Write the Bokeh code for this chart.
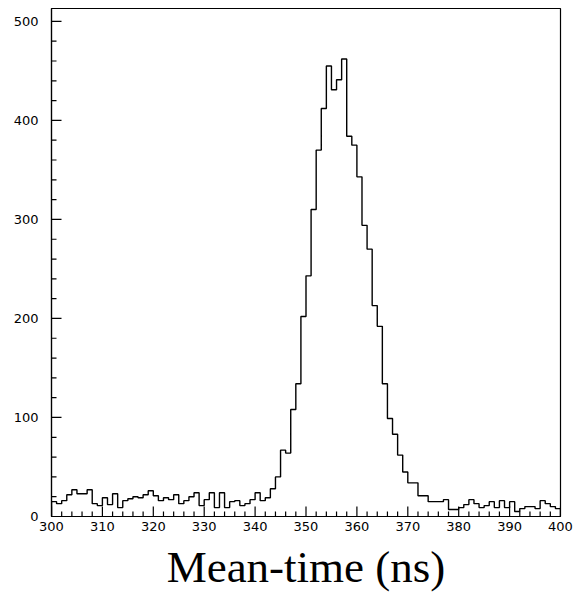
import math
from bokeh.plotting import figure
from bokeh.models import SingleIntervalTicker, Range1d
from bokeh.embed import file_html
from bokeh.resources import INLINE

# Histogram: 1 ns bins from 300 to 400 ns
bin_start = 300
bin_width = 1
counts = [
    15, 13, 16, 22, 27, 23, 23, 27, 13, 11,   # 300-309
    19, 12, 23, 9, 16, 18, 20, 19, 22, 26,    # 310-319
    21, 16, 19, 17, 22, 13, 16, 20, 24, 11,   # 320-329
    17, 24, 9, 24, 9, 15, 16, 11, 13, 17,     # 330-339
    24, 16, 19, 28, 40, 67, 64, 108, 134, 202,  # 340-349
    243, 310, 370, 412, 455, 431, 441, 462, 384, 375,  # 350-359
    343, 294, 270, 213, 192, 134, 99, 83, 62, 45,  # 360-369
    34, 34, 21, 21, 15, 15, 15, 17, 7, 7,     # 370-379
    9, 12, 17, 13, 9, 11, 15, 9, 16, 9,       # 380-389
    15, 5, 8, 10, 10, 8, 16, 13, 10, 8,       # 390-399
]
x_label = "Mean-time (ns)"
x_major_ticks = [300, 310, 320, 330, 340, 350, 360, 370, 380, 390, 400]
y_major_ticks = [0, 100, 200, 300, 400, 500]

X_MIN, X_MAX = 300, 400
Y_MIN, Y_MAX = 0, 513

edges = [bin_start + i * bin_width for i in range(len(counts) + 1)]
step_y = counts + [counts[-1]]

x_minor_ticks = [t for t in range(X_MIN, X_MAX + 1, 2) if t not in x_major_ticks]
y_minor_ticks = [t for t in range(Y_MIN, 501, 20) if t not in y_major_ticks]

p = figure(width=575, height=597, output_backend="svg", toolbar_location=None,
           x_range=Range1d(X_MIN, X_MAX), y_range=Range1d(Y_MIN, Y_MAX),
           min_border_left=51, min_border_right=15, min_border_top=8,
           min_border_bottom=81)
p.background_fill_color = "white"
p.border_fill_color = "white"
p.outline_line_color = "black"
p.outline_line_width = 1.2
p.grid.visible = False

p.step(x=edges, y=step_y, mode="after", line_color="black", line_width=1.4)
# vertical closing lines at the ends
p.line(x=[edges[0], edges[0]], y=[0, counts[0]], line_color="black", line_width=1.4)
p.line(x=[edges[-1], edges[-1]], y=[0, counts[-1]], line_color="black", line_width=1.4)

# inward tick marks
p.ray(x=x_major_ticks, y=[Y_MIN] * len(x_major_ticks), length=10, length_units="screen",
      angle=math.pi / 2, line_color="black", line_width=1.2)
p.ray(x=x_minor_ticks, y=[Y_MIN] * len(x_minor_ticks), length=5, length_units="screen",
      angle=math.pi / 2, line_color="black", line_width=1.2)
p.ray(x=[X_MIN] * len(y_major_ticks), y=y_major_ticks, length=10, length_units="screen",
      angle=0, line_color="black", line_width=1.2)
p.ray(x=[X_MIN] * len(y_minor_ticks), y=y_minor_ticks, length=5, length_units="screen",
      angle=0, line_color="black", line_width=1.2)

for ax in (p.xaxis[0], p.yaxis[0]):
    ax.axis_line_color = "black"
    ax.axis_line_width = 1.2
    ax.major_tick_in = 0
    ax.major_tick_out = 0
    ax.minor_tick_in = 0
    ax.minor_tick_out = 0
    ax.major_tick_line_color = None
    ax.minor_tick_line_color = None
    ax.major_label_text_font = "DejaVu Sans"
    ax.major_label_text_font_size = "13px"
    ax.major_label_text_color = "black"

p.xaxis[0].ticker = SingleIntervalTicker(interval=10, num_minor_ticks=5)
p.yaxis[0].ticker = SingleIntervalTicker(interval=100, num_minor_ticks=5)
p.xaxis[0].major_label_standoff = 5
p.yaxis[0].major_label_standoff = 13

p.xaxis[0].axis_label = x_label
p.xaxis[0].axis_label_text_font = "Liberation Serif"
p.xaxis[0].axis_label_text_font_size = "45px"
p.xaxis[0].axis_label_text_font_style = "normal"
p.xaxis[0].axis_label_text_color = "black"
p.xaxis[0].axis_label_standoff = 8

open("out.html", "w").write(file_html(p, INLINE))
